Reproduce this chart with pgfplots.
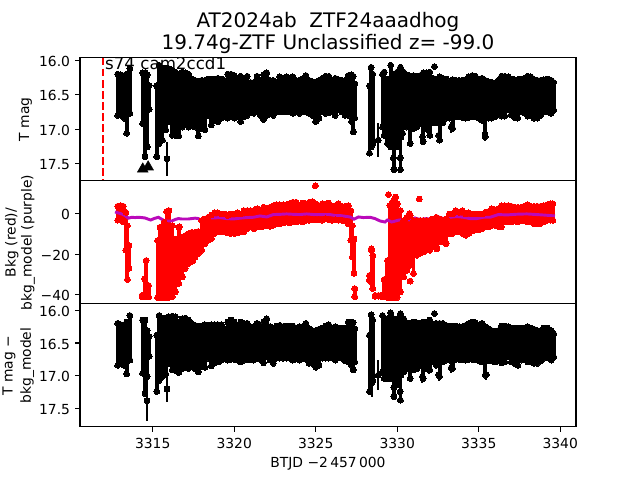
\documentclass[border=0pt]{standalone}
\usepackage{pgfplots}
\usepackage{pgfplotstable}
\usepackage{fontspec}
\setmainfont{DejaVu Sans}
\pgfplotsset{compat=1.18}
\definecolor{bkgpurple}{RGB}{186,10,186}
\pgfplotstableread{
x t b
3312.85 16.20 16.80
3313.05 16.21 16.80
3313.25 16.22 16.84
3313.40 16.20 17.06
3313.60 16.12 16.77
3314.38 16.18 16.92
3314.53 16.18 17.40
3314.66 16.21 17.26
3314.78 16.37 16.71
3315.25 16.37 17.40
3315.40 16.07 17.21
3315.60 16.11 17.16
3315.80 16.11 17.01
3316.00 16.12 16.89
3316.20 16.15 17.09
3316.40 16.17 17.09
3316.60 16.20 17.10
3316.80 16.17 16.97
3317.00 16.18 16.94
3317.20 16.20 16.97
3317.40 16.27 16.94
3317.60 16.29 16.97
3317.80 16.31 17.10
3318.00 16.29 16.99
3318.20 16.29 17.01
3318.40 16.27 16.80
3318.60 16.27 16.94
3318.80 16.27 16.87
3319.00 16.26 16.89
3319.20 16.27 16.84
3319.40 16.29 16.82
3319.60 16.20 16.84
3319.80 16.20 16.82
3320.00 16.22 16.84
3320.20 16.29 16.82
3320.40 16.23 16.89
3320.60 16.29 16.82
3320.80 16.23 16.80
3321.00 16.32 16.75
3321.20 16.32 16.77
3321.40 16.23 16.75
3321.60 16.29 16.80
3321.80 16.21 16.86
3322.00 16.18 16.80
3322.20 16.29 16.77
3322.40 16.29 16.80
3322.60 16.32 16.75
3322.80 16.24 16.75
3323.00 16.26 16.75
3323.20 16.24 16.75
3323.40 16.26 16.75
3323.60 16.24 16.77
3323.80 16.29 16.75
3324.00 16.29 16.77
3324.20 16.27 16.75
3324.40 16.22 16.75
3324.60 16.29 16.77
3324.80 16.31 16.80
3325.00 16.32 16.89
3325.20 16.29 16.84
3325.40 16.26 16.75
3325.60 16.23 16.77
3325.80 16.23 16.76
3326.00 16.29 16.75
3326.20 16.26 16.80
3326.40 16.28 16.72
3326.60 16.29 16.75
3326.80 16.29 16.80
3327.00 16.22 16.80
3327.20 16.21 16.89
3327.30 16.23 17.04
3327.40 16.34 16.84
3328.30 16.37 17.35
3328.40 16.10 17.26
3328.50 16.20 17.21
3329.10 16.20 16.97
3329.20 16.17 17.09
3329.40 16.27 17.21
3329.60 16.07 17.26
3329.80 16.20 17.59
3330.00 16.17 17.26
3330.20 16.10 17.59
3330.40 16.17 16.97
3330.60 16.21 16.97
3330.80 16.23 17.21
3331.00 16.22 16.99
3331.20 16.23 16.97
3331.40 16.22 16.92
3331.60 16.18 17.18
3331.80 16.18 16.99
3332.00 16.17 17.09
3332.20 16.26 16.91
3332.40 16.27 16.91
3332.60 16.24 17.16
3332.80 16.26 16.91
3333.00 16.27 16.84
3333.20 16.32 16.84
3333.40 16.28 16.99
3333.60 16.29 16.82
3333.80 16.29 16.82
3334.00 16.29 16.83
3334.20 16.28 16.84
3334.40 16.24 16.83
3334.60 16.22 16.82
3334.80 16.23 16.82
3335.00 16.27 16.84
3335.20 16.26 16.87
3335.40 16.29 17.11
3335.60 16.31 16.84
3335.80 16.32 16.84
3336.00 16.33 16.82
3336.20 16.29 16.77
3336.40 16.23 16.81
3336.60 16.23 16.81
3336.80 16.24 16.72
3337.00 16.27 16.79
3337.20 16.28 16.83
3337.40 16.28 16.84
3337.60 16.27 16.75
3337.80 16.26 16.76
3338.00 16.23 16.81
3338.20 16.24 16.80
3338.40 16.28 16.84
3338.60 16.29 16.84
3338.80 16.29 16.80
3339.00 16.28 16.75
3339.20 16.27 16.72
3339.30 16.28 16.75
3339.45 16.29 16.77
3339.60 16.32 16.72
}\magtable
\pgfplotstableread{
x y e
3315.88 17.43 0.25
3328.83 17.16 0.25
3332.28 16.09 0.02
3335.39 17.08 0.09
3332.54 17.09 0.10
3333.31 16.97 0.08
3331.55 17.11 0.12
3330.18 17.42 0.20
3329.77 17.42 0.20
3330.33 17.06 0.10
3331.94 17.01 0.10
}\magiso
\pgfplotstableread{
x t b
3312.85 3.8 -3.1
3313.05 4.1 -2.8
3313.20 3.8 -4.0
3313.35 0.8 -18.0
3313.45 -5.8 -32.5
3313.55 -15.7 -27.0
3314.35 -40.4 -41.1
3314.50 -32.2 -41.1
3314.60 -23.1 -41.1
3314.75 -35.5 -41.1
3315.30 -13.2 -41.4
3315.45 -6.6 -41.4
3315.60 -6.6 -41.4
3315.70 -4.1 -41.4
3315.85 1.2 -41.4
3316.00 1.65 -41.4
3316.20 -5.8 -41.0
3316.40 -12.4 -38.6
3316.60 -6.6 -34.5
3316.80 -11.6 -31.2
3317.00 -10.7 -27.0
3317.20 -9.9 -24.6
3317.40 -9.1 -23.0
3317.60 -9.1 -21.3
3317.80 -8.7 -19.6
3318.00 -3.3 -18.0
3318.20 -2.5 -14.7
3318.40 -1.65 -13.0
3318.60 -0.5 -12.2
3318.80 0.5 -9.7
3319.00 0.5 -8.9
3319.20 0.0 -8.9
3319.40 0.0 -8.9
3319.60 -0.8 -9.4
3319.80 0.0 -9.7
3320.00 0.0 -9.7
3320.20 0.5 -9.4
3320.40 0.0 -8.9
3320.60 1.65 -8.9
3320.80 1.65 -7.3
3321.00 1.65 -6.4
3321.20 1.65 -7.3
3321.40 2.5 -6.1
3321.60 1.65 -6.4
3321.80 3.3 -6.1
3322.00 2.5 -5.6
3322.20 3.3 -6.1
3322.40 4.1 -5.6
3322.60 4.5 -4.8
3322.80 4.5 -4.8
3323.00 4.5 -4.5
3323.20 4.5 -4.0
3323.40 5.0 -4.5
3323.60 5.8 -4.0
3323.80 5.8 -4.0
3324.00 4.1 -3.5
3324.20 5.4 -4.0
3324.40 5.0 -3.1
3324.60 5.8 -3.1
3324.80 6.1 -2.8
3325.00 5.0 -2.8
3325.20 4.1 -2.8
3325.40 5.0 -3.1
3325.60 4.5 -2.3
3325.80 5.4 -2.8
3326.00 3.8 -3.1
3326.20 4.1 -2.8
3326.40 5.0 -3.1
3326.60 3.8 -3.1
3326.80 3.8 -3.5
3327.00 4.1 -4.8
3327.15 1.65 -13.0
3327.25 -5.8 -21.3
3327.35 -12.4 -29.5
3327.40 -37.1 -41.1
3328.30 -30.5 -32.8
3328.42 -18.1 -34.0
3328.50 -20.6 -37.0
3328.65 -40.4 -40.8
3328.85 -40.4 -40.8
3329.00 -40.4 -40.8
3329.20 -32.5 -41.1
3329.40 -23.1 -41.4
3329.55 4.1 -41.4
3329.70 5.8 -41.4
3329.85 7.8 -41.4
3330.00 5.0 -41.4
3330.20 1.65 -38.6
3330.40 -3.3 -31.2
3330.60 -1.65 -27.9
3330.80 -0.8 -25.4
3331.00 -3.3 -29.5
3331.20 -3.3 -20.5
3331.40 -3.3 -19.6
3331.60 -3.3 -18.8
3331.80 -3.3 -18.0
3332.00 -3.3 -18.0
3332.20 -2.5 -15.5
3332.40 -1.65 -16.3
3332.60 -2.5 -13.9
3332.80 -3.3 -13.9
3333.00 -2.5 -14.7
3333.20 0.0 -9.7
3333.40 0.0 -9.7
3333.60 1.65 -8.9
3333.80 0.8 -8.9
3334.00 1.65 -9.7
3334.20 0.0 -10.6
3334.40 0.5 -9.7
3334.60 0.0 -8.4
3334.80 0.0 -7.8
3335.00 0.0 -7.8
3335.20 0.0 -7.3
3335.40 0.8 -6.4
3335.60 1.2 -6.4
3335.80 2.5 -5.6
3336.00 2.1 -5.6
3336.20 2.5 -6.1
3336.40 4.1 -6.4
3336.60 4.1 -4.0
3336.80 4.1 -4.0
3337.00 3.8 -4.0
3337.20 3.3 -3.5
3337.40 3.3 -4.0
3337.60 3.3 -3.5
3337.80 3.8 -3.1
3338.00 4.5 -4.0
3338.20 3.8 -4.0
3338.40 3.8 -4.8
3338.60 3.8 -4.8
3338.80 3.8 -4.8
3339.00 4.1 -4.0
3339.20 4.5 -3.1
3339.40 5.0 -3.1
3339.55 5.0 -3.1
}\bkgtable
\pgfplotstableread{
x y
3324.98 14.0
3316.64 -6.4
3316.82 -31.2
3317.45 -23.4
3329.46 9.6
3329.90 8.4
3331.36 7.4
3330.75 0.2
3332.42 -17.3
3330.79 -33.3
3328.41 -17.3
}\bkgiso
\pgfplotstableread{
x y
3312.69 1.0
3312.89 0.5
3313.10 0.0
3313.30 -0.8
3313.51 -2.1
3313.71 -1.65
3313.92 -1.8
3314.12 -1.65
3314.33 -1.8
3314.53 -2.0
3314.73 -2.6
3314.88 -3.0
3315.08 -2.3
3315.35 -1.65
3315.55 -2.6
3315.76 -3.5
3315.96 -3.5
3316.17 -3.5
3316.37 -2.8
3316.57 -2.3
3316.78 -2.5
3316.98 -2.5
3317.19 -2.5
3317.39 -2.3
3317.60 -2.1
3317.80 -2.3
3318.01 -3.3
3318.21 -2.5
3318.42 -2.0
3318.72 -2.0
3319.13 -1.8
3319.54 -2.3
3319.95 -2.5
3320.36 -2.1
3320.77 -1.8
3321.18 -1.65
3321.58 -1.0
3321.99 -1.5
3322.40 -0.3
3322.81 -0.2
3323.22 0.0
3323.63 -0.2
3324.04 -0.3
3324.45 0.0
3324.86 -0.3
3325.27 -0.3
3325.88 -0.3
3326.19 -0.8
3326.49 -0.8
3326.80 -1.15
3327.11 -1.5
3327.35 -2.6
3327.62 -1.5
3327.92 -1.8
3328.33 -1.65
3328.64 -2.3
3328.95 -3.5
3329.25 -4.0
3329.40 -3.0
3329.66 -4.0
3330.07 -3.1
3330.48 -2.6
3330.79 -3.0
3331.09 -2.0
3331.40 -2.8
3331.81 -2.3
3332.12 -3.0
3332.42 -1.15
3332.83 -2.3
3333.24 -1.65
3333.65 -1.3
3334.06 -1.65
3334.47 -2.3
3334.88 -2.3
3335.29 -1.65
3335.70 -1.65
3336.21 -0.3
3336.72 -0.5
3337.33 -0.15
3337.95 0.0
3338.56 -0.3
3339.17 -0.65
3339.68 -1.0
}\modeltable
\pgfplotstableread{
x t b
3312.85 16.20 16.84
3313.05 16.22 16.81
3313.25 16.23 16.84
3313.40 16.18 16.97
3313.60 16.08 16.76
3314.38 16.15 16.96
3314.53 16.15 17.27
3314.66 16.31 17.01
3314.78 16.40 16.70
3315.25 16.38 17.24
3315.40 16.08 17.07
3315.60 16.12 17.01
3315.80 16.12 16.97
3316.00 16.10 16.81
3316.20 16.09 16.91
3316.40 16.10 16.92
3316.60 16.18 16.95
3316.80 16.13 16.89
3317.00 16.12 16.87
3317.20 16.15 16.89
3317.40 16.20 16.86
3317.60 16.23 16.89
3317.80 16.24 16.94
3318.00 16.24 16.86
3318.20 16.22 16.87
3318.40 16.23 16.73
3318.60 16.22 16.85
3318.80 16.22 16.80
3319.00 16.22 16.79
3319.20 16.22 16.76
3319.40 16.28 16.73
3319.60 16.18 16.76
3319.80 16.15 16.75
3320.00 16.18 16.75
3320.20 16.23 16.76
3320.40 16.18 16.79
3320.60 16.20 16.76
3320.80 16.20 16.75
3321.00 16.25 16.75
3321.20 16.25 16.76
3321.40 16.20 16.73
3321.60 16.25 16.75
3321.80 16.18 16.80
3322.00 16.13 16.71
3322.20 16.25 16.76
3322.40 16.27 16.81
3322.60 16.24 16.73
3322.80 16.23 16.73
3323.00 16.25 16.73
3323.20 16.24 16.73
3323.40 16.24 16.73
3323.60 16.24 16.76
3323.80 16.27 16.73
3324.00 16.25 16.76
3324.20 16.25 16.73
3324.40 16.20 16.75
3324.60 16.28 16.81
3324.80 16.31 16.81
3325.00 16.31 16.87
3325.20 16.29 16.84
3325.40 16.27 16.73
3325.60 16.24 16.73
3325.80 16.22 16.73
3326.00 16.28 16.72
3326.20 16.25 16.76
3326.40 16.27 16.70
3326.60 16.27 16.73
3326.80 16.27 16.77
3327.00 16.18 16.79
3327.20 16.18 16.84
3327.30 16.19 16.91
3327.40 16.28 16.79
3328.30 16.38 17.24
3328.40 16.07 17.09
3328.50 16.15 17.07
3329.10 16.08 16.94
3329.20 16.13 17.04
3329.40 16.13 17.04
3329.60 16.04 17.04
3329.80 16.13 17.32
3330.00 16.13 17.14
3330.20 16.05 17.37
3330.40 16.13 16.94
3330.60 16.19 16.89
3330.80 16.20 17.04
3331.00 16.18 16.91
3331.20 16.19 16.89
3331.40 16.20 16.84
3331.60 16.18 17.04
3331.80 16.18 16.89
3332.00 16.15 16.91
3332.20 16.22 16.79
3332.40 16.20 16.84
3332.60 16.20 17.01
3332.80 16.20 16.79
3333.00 16.23 16.76
3333.20 16.25 16.76
3333.40 16.24 16.89
3333.60 16.24 16.75
3333.80 16.25 16.75
3334.00 16.25 16.75
3334.20 16.23 16.76
3334.40 16.20 16.75
3334.60 16.18 16.75
3334.80 16.19 16.75
3335.00 16.23 16.77
3335.20 16.20 16.79
3335.40 16.25 16.99
3335.60 16.28 16.77
3335.80 16.31 16.76
3336.00 16.32 16.79
3336.20 16.31 16.73
3336.40 16.24 16.80
3336.60 16.24 16.79
3336.80 16.25 16.71
3337.00 16.27 16.79
3337.20 16.27 16.81
3337.40 16.28 16.84
3337.60 16.27 16.76
3337.80 16.27 16.75
3338.00 16.25 16.79
3338.20 16.27 16.79
3338.40 16.29 16.81
3338.60 16.31 16.81
3338.80 16.31 16.77
3339.00 16.27 16.73
3339.20 16.27 16.72
3339.30 16.29 16.73
3339.45 16.31 16.76
3339.60 16.36 16.71
}\cortable
\pgfplotstableread{
x y e
3314.65 17.38 0.31
3315.88 17.20 0.20
3328.83 16.99 0.23
3332.28 16.05 0.02
3335.47 16.98 0.08
3332.54 16.98 0.10
3333.31 16.88 0.07
3331.55 17.01 0.10
3330.18 17.24 0.17
3329.80 17.18 0.19
3330.33 16.93 0.10
3331.94 16.89 0.08
3328.44 17.11 0.22
}\coriso
\pgfplotsset{
  panel/.style={
    scale only axis, width=372pt, height=92.25pt, anchor=south west,
    xmin=3310.54, xmax=3340.97,
    axis line style={line width=0.83pt},
    tick style={line width=0.83pt, black},
    major tick length=3.65pt, tick align=outside,
    xtick pos=bottom, ytick pos=left,
    tick label style={font=\fontsize{10.4}{12.5}\selectfont},
    y tick label style={inner sep=0pt, xshift=-3.65pt, yshift=-0.75pt},
    x tick label style={inner sep=0pt, yshift=-5pt},
  },
  column/.style={only marks, mark=*, mark size=2.2pt, color=#1,
    mark options={fill=#1, draw=#1, line width=0pt},
    error bars/.cd, y dir=plus, y explicit, error mark=none,
    error bar style={line width=2.9pt, color=#1}},
  dots/.style={only marks, mark=*, mark size=2.2pt, color=#1,
    mark options={fill=#1, draw=#1, line width=0pt}},
  iso/.style={only marks, mark=*, mark size=2.2pt, color=black,
    mark options={fill=black, draw=black, line width=0pt},
    error bars/.cd, y dir=both, y explicit, error mark=none,
    error bar style={line width=1.5pt, color=black}},
}
\begin{document}
\begin{tikzpicture}
\useasboundingbox (0,0) rectangle (480pt,360pt);
\begin{axis}[panel, at={(60pt,224.5pt)}, y dir=reverse,
  ymin=15.96, ymax=17.75, xtick=\empty,
  ytick={16,16.5,17,17.5}, yticklabels={16.0,16.5,17.0,17.5}]
\addplot[column=black] table[x=x, y=t, y error plus expr=\thisrow{b}-\thisrow{t}, y error minus expr=0] {\magtable};
\addplot[dots=black] table[x=x, y=b] {\magtable};
\addplot[iso] table[x=x, y=y, y error=e] {\magiso};
\addplot[only marks, mark=triangle*, mark size=4.6pt, black] coordinates {(3314.39,17.58) (3314.72,17.55)};
\addplot[red, line width=1.56pt, dash pattern=on 5.8pt off 2.5pt] coordinates {(3311.95,15.96) (3311.95,17.75)};
\node[anchor=base west, inner sep=0pt, font=\fontsize{12.5}{15}\selectfont] at (axis cs:3312.07,16.13) {s74 cam2ccd1};
\end{axis}
\begin{axis}[panel, at={(60pt,132.25pt)},
  ymin=-44.5, ymax=16.5, xtick=\empty,
  ytick={-40,-20,0}, yticklabels={−40,−20,0}]
\addplot[column=red] table[x=x, y=b, y error plus expr=\thisrow{t}-\thisrow{b}, y error minus expr=0] {\bkgtable};
\addplot[dots=red] table[x=x, y=t] {\bkgtable};
\addplot[dots=red] table[x=x, y=y] {\bkgiso};
\addplot[bkgpurple, line width=2.2pt] table[x=x, y=y] {\modeltable};
\end{axis}
\begin{axis}[panel, at={(60pt,40pt)}, y dir=reverse,
  ymin=15.90, ymax=17.775,
  xtick={3315,3320,3325,3330,3335,3340},
  xticklabels={3315,3320,3325,3330,3335,3340},
  ytick={16,16.5,17,17.5}, yticklabels={16.0,16.5,17.0,17.5}]
\addplot[column=black] table[x=x, y=t, y error plus expr=\thisrow{b}-\thisrow{t}, y error minus expr=0] {\cortable};
\addplot[dots=black] table[x=x, y=b] {\cortable};
\addplot[iso] table[x=x, y=y, y error=e] {\coriso};
\end{axis}
\node[anchor=base, inner sep=0pt, font=\fontsize{15}{18}\selectfont] at (246pt,339.2pt) {AT2024ab\ \ ZTF24aaadhog};
\node[anchor=base, inner sep=0pt, font=\fontsize{15}{18}\selectfont] at (246pt,323.25pt) {19.74g-ZTF Unclassified z= -99.0};
\node[anchor=base, inner sep=0pt, font=\fontsize{10.4}{12.5}\selectfont] at (246pt,9.2pt) {BTJD −2\,457\,000};
\node[anchor=base, rotate=90, inner sep=0pt, font=\fontsize{10.4}{12.5}\selectfont] at (21.8pt,270.4pt) {T mag};
\node[anchor=base, rotate=90, inner sep=0pt, font=\fontsize{10.4}{12.5}\selectfont] at (11.7pt,178.1pt) {Bkg (red)/};
\node[anchor=base, rotate=90, inner sep=0pt, font=\fontsize{10.4}{12.5}\selectfont] at (23.8pt,178.1pt) {bkg\_model (purple)};
\node[anchor=base, rotate=90, inner sep=0pt, font=\fontsize{10.4}{12.5}\selectfont] at (9.5pt,85.8pt) {T mag −};
\node[anchor=base, rotate=90, inner sep=0pt, font=\fontsize{10.4}{12.5}\selectfont] at (23.2pt,85.8pt) {bkg\_model};
\end{tikzpicture}
\end{document}
